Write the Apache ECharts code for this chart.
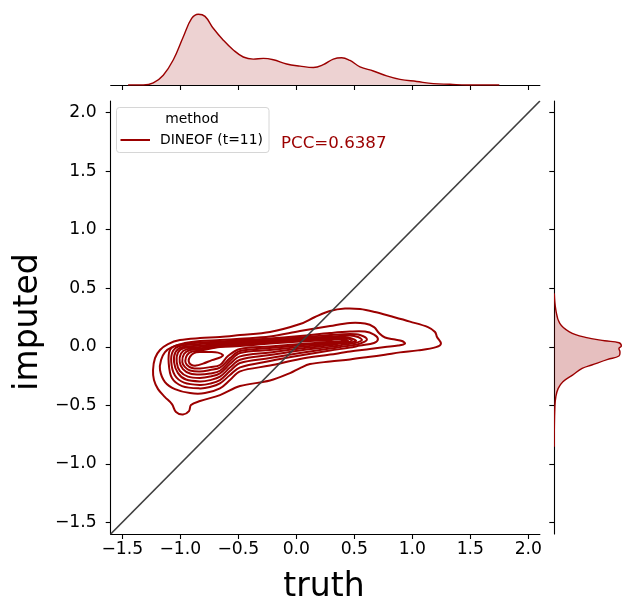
<!DOCTYPE html>
<html>
<head>
<meta charset="utf-8">
<script src="https://cdn.jsdelivr.net/npm/echarts@6/dist/echarts.min.js"></script>
<style>
html,body{margin:0;padding:0;background:#fff;}
#chart{width:637px;height:615px;}
</style>
</head>
<body>
<div id="chart"></div>
<script>
// ---- tick labels ----
const xTicks = [-1.5, -1.0, -0.5, 0.0, 0.5, 1.0, 1.5, 2.0];
const yTicks = [-1.5, -1.0, -0.5, 0.0, 0.5, 1.0, 1.5, 2.0];

// ---- marginal KDE of truth (x) ----
const margXVals = [-1.45, -1.319, -1.233, -1.147, -1.060, -0.974, -0.902, -0.845, -0.787, -0.716, -0.629, -0.543, -0.457, -0.371, -0.284, -0.198, -0.083, 0.032, 0.147, 0.233, 0.319, 0.391, 0.463, 0.549, 0.664, 0.779, 0.894, 1.038, 1.181, 1.325, 1.469, 1.75];
const margXDens = [0, 0, 0.03, 0.14, 0.36, 0.69, 0.95, 1.01, 0.98, 0.81, 0.64, 0.50, 0.40, 0.37, 0.38, 0.36, 0.30, 0.27, 0.25, 0.29, 0.37, 0.39, 0.35, 0.26, 0.20, 0.13, 0.08, 0.05, 0.02, 0.01, 0, 0];

// ---- marginal KDE of imputed (y) ----
const margYVals = [0.456, 0.314, 0.200, 0.128, 0.080, 0.051, 0.034, 0.006, -0.014, -0.043, -0.079, -0.108, -0.156, -0.185, -0.242, -0.299, -0.356, -0.427, -0.513, -0.712, -0.855];
const margYDens = [0, 0.08, 0.28, 0.77, 1.59, 2.57, 3.30, 3.42, 3.30, 3.35, 3.30, 2.73, 1.91, 1.42, 0.93, 0.44, 0.20, 0.08, 0.03, 0, 0];

// ---- bivariate KDE contour lines (truth, imputed), outermost first ----
const contour1 = [[-1.235,-0.199],[-1.218,-0.097],[-1.175,-0.028],[-1.106,0.023],[-1.003,0.057],[-0.830,0.074],[-0.658,0.083],[-0.485,0.100],[-0.227,0.126],[0.032,0.194],[0.161,0.254],[0.291,0.305],[0.420,0.326],[0.549,0.322],[0.678,0.297],[0.825,0.258],[0.980,0.215],[1.135,0.168],[1.196,0.126],[1.213,0.083],[1.247,0.027],[1.205,-0.003],[1.049,-0.031],[0.894,-0.048],[0.765,-0.068],[0.618,-0.088],[0.463,-0.108],[0.291,-0.126],[0.118,-0.148],[0.032,-0.182],[-0.054,-0.225],[-0.227,-0.289],[-0.485,-0.336],[-0.658,-0.413],[-0.830,-0.464],[-0.908,-0.498],[-0.925,-0.550],[-0.977,-0.579],[-1.037,-0.558],[-1.072,-0.490],[-1.132,-0.430],[-1.192,-0.362],[-1.227,-0.285]];
const contour2 = [[-1.175,-0.199],[-1.166,-0.114],[-1.132,-0.045],[-1.072,-0.003],[-0.959,0.032],[-0.830,0.049],[-0.658,0.057],[-0.485,0.068],[-0.227,0.087],[0.032,0.134],[0.291,0.177],[0.463,0.203],[0.592,0.198],[0.670,0.168],[0.713,0.117],[0.765,0.079],[0.851,0.062],[0.911,0.049],[0.937,0.027],[0.877,0.010],[0.765,-0.003],[0.635,-0.020],[0.463,-0.041],[0.291,-0.067],[0.032,-0.105],[-0.227,-0.161],[-0.485,-0.210],[-0.572,-0.285],[-0.658,-0.356],[-0.787,-0.396],[-0.916,-0.396],[-1.046,-0.362],[-1.132,-0.302]];
const contour3 = [[-1.100,-0.139],[-1.089,-0.028],[-1.020,0.015],[-0.830,0.036],[-0.658,0.044],[-0.485,0.057],[-0.227,0.070],[0.032,0.091],[0.291,0.117],[0.463,0.130],[0.592,0.130],[0.670,0.104],[0.704,0.066],[0.670,0.032],[0.549,0.010],[0.463,-0.007],[0.291,-0.032],[0.032,-0.075],[-0.227,-0.122],[-0.485,-0.176],[-0.572,-0.242],[-0.658,-0.313],[-0.744,-0.344],[-0.830,-0.356],[-0.985,-0.336],[-1.072,-0.268]];
const contour4 = [[-1.078,-0.131],[-1.063,-0.037],[-1.003,0.006],[-0.830,0.023],[-0.658,0.036],[-0.485,0.049],[-0.227,0.062],[0.032,0.079],[0.291,0.100],[0.463,0.109],[0.549,0.100],[0.609,0.062],[0.549,0.027],[0.463,0.010],[0.291,-0.015],[0.032,-0.054],[-0.227,-0.097],[-0.485,-0.139],[-0.572,-0.208],[-0.658,-0.285],[-0.744,-0.315],[-0.830,-0.326],[-0.968,-0.306],[-1.046,-0.246]];
const contour5 = [[-1.054,-0.131],[-1.041,-0.045],[-0.985,-0.003],[-0.830,0.010],[-0.658,0.027],[-0.485,0.040],[-0.227,0.055],[0.032,0.070],[0.291,0.087],[0.463,0.096],[0.532,0.083],[0.566,0.057],[0.506,0.032],[0.420,0.019],[0.291,-0.001],[0.032,-0.032],[-0.227,-0.071],[-0.485,-0.111],[-0.572,-0.178],[-0.658,-0.256],[-0.744,-0.285],[-0.830,-0.296],[-0.951,-0.280],[-1.020,-0.225]];
const contour6 = [[-1.031,-0.131],[-1.020,-0.050],[-0.968,-0.011],[-0.830,-0.003],[-0.658,0.019],[-0.485,0.032],[-0.227,0.049],[0.032,0.063],[0.291,0.079],[0.420,0.083],[0.515,0.053],[0.463,0.036],[0.377,0.027],[0.291,0.012],[0.032,-0.015],[-0.227,-0.050],[-0.485,-0.082],[-0.572,-0.148],[-0.658,-0.227],[-0.744,-0.255],[-0.830,-0.266],[-0.934,-0.255],[-1.003,-0.208]];
const contour7 = [[-1.005,-0.131],[-0.994,-0.058],[-0.942,-0.020],[-0.830,-0.014],[-0.658,0.010],[-0.485,0.023],[-0.227,0.042],[0.032,0.057],[0.291,0.070],[0.420,0.074],[0.480,0.053],[0.420,0.036],[0.291,0.023],[0.032,-0.001],[-0.227,-0.028],[-0.485,-0.054],[-0.572,-0.122],[-0.658,-0.205],[-0.744,-0.229],[-0.830,-0.238],[-0.916,-0.229],[-0.977,-0.191]];
const contour8 = [[-0.983,-0.131],[-0.968,-0.062],[-0.916,-0.028],[-0.830,-0.024],[-0.658,0.003],[-0.485,0.015],[-0.227,0.036],[0.032,0.051],[0.291,0.063],[0.394,0.068],[0.446,0.052],[0.394,0.040],[0.291,0.032],[0.032,0.012],[-0.227,-0.011],[-0.485,-0.037],[-0.572,-0.097],[-0.658,-0.179],[-0.744,-0.199],[-0.830,-0.212],[-0.916,-0.203],[-0.959,-0.174]];
const contour9 = [[-0.957,-0.122],[-0.942,-0.071],[-0.899,-0.041],[-0.830,-0.034],[-0.658,-0.003],[-0.485,0.006],[-0.227,0.027],[0.032,0.044],[0.291,0.057],[0.377,0.061],[0.428,0.050],[0.377,0.043],[0.291,0.040],[0.032,0.023],[-0.227,0.002],[-0.485,-0.020],[-0.589,-0.079],[-0.658,-0.156],[-0.744,-0.174],[-0.830,-0.186],[-0.899,-0.182],[-0.942,-0.156]];
const contour10 = [[-0.928,-0.122],[-0.916,-0.084],[-0.882,-0.054],[-0.830,-0.045],[-0.744,-0.045],[-0.675,-0.050],[-0.632,-0.071],[-0.649,-0.088],[-0.727,-0.114],[-0.804,-0.144],[-0.865,-0.161],[-0.908,-0.152]];
const contours = [contour1, contour2, contour3, contour4, contour5, contour6, contour7, contour8, contour9, contour10];

// identity reference line
const diagLine = [[-1.6, -1.6], [2.1, 2.1]];

const legendTitle = 'method';
const legendLabel = 'DINEOF (t=11)';
const pccText = 'PCC=0.6387';

const RED = 'rgb(155,0,0)';
const FILL = 'rgba(155,0,0,0.25)';
const FONT = 'DejaVu Sans';
const fmt = v => (v < 0 ? '\u2212' : '') + Math.abs(v).toFixed(1);

const chart = echarts.init(document.getElementById('chart'), null, {renderer: 'canvas'});

const axLine = {show: true, onZero: false, lineStyle: {color: '#000', width: 1.1}};

const option = {
  animation: false,
  backgroundColor: '#fff',
  grid: [
    {left: 110.7, top: 101, width: 429.2, height: 433},
    {left: 110.7, top: 0, width: 429.2, height: 85},
    {left: 554.3, top: 101, width: 86, height: 433}
  ],
  xAxis: [
    {gridIndex: 0, type: 'value', min: -1.6, max: 2.1,
     axisLine: axLine,
     axisTick: {show: true, length: 5, customValues: xTicks, lineStyle: {color: '#000', width: 1.1}},
     axisLabel: {customValues: xTicks, formatter: fmt, fontSize: 17.2, color: '#000', fontFamily: FONT, margin: 7},
     splitLine: {show: false}},
    {gridIndex: 1, type: 'value', min: -1.6, max: 2.1,
     axisLine: axLine,
     axisTick: {show: true, length: 5, customValues: xTicks, lineStyle: {color: '#000', width: 1.1}},
     axisLabel: {show: false}, splitLine: {show: false}},
    {gridIndex: 2, type: 'value', min: 0, max: 4.22, show: false, splitLine: {show: false}}
  ],
  yAxis: [
    {gridIndex: 0, type: 'value', min: -1.6, max: 2.1,
     axisLine: axLine,
     axisTick: {show: true, length: 5, customValues: yTicks, lineStyle: {color: '#000', width: 1.1}},
     axisLabel: {customValues: yTicks, formatter: fmt, fontSize: 17.2, color: '#000', fontFamily: FONT, margin: 14},
     splitLine: {show: false}},
    {gridIndex: 1, type: 'value', min: 0, max: 1.214, show: false, splitLine: {show: false}},
    {gridIndex: 2, type: 'value', min: -1.6, max: 2.1,
     axisLine: axLine,
     axisTick: {show: true, length: 5, customValues: yTicks, lineStyle: {color: '#000', width: 1.1}},
     axisLabel: {show: false}, splitLine: {show: false}}
  ],
  series: [
    {
      type: 'custom', xAxisIndex: 0, yAxisIndex: 0, z: 2,
      data: contours.map(c => [c[0][0], c[0][1]]),
      renderItem: function (params, api) {
        const c = contours[params.dataIndex];
        const pts = c.map(p => api.coord(p));
        return {type: 'polygon', shape: {points: pts, smooth: 0.35},
                style: {fill: 'none', stroke: RED, lineWidth: 2}};
      }
    },
    {
      type: 'line', xAxisIndex: 0, yAxisIndex: 0, z: 5,
      data: diagLine, symbol: 'none',
      lineStyle: {color: '#3f3f3f', width: 1.7}
    },
    {
      type: 'line', xAxisIndex: 1, yAxisIndex: 1, z: 2,
      data: margXVals.map((x, i) => [x, margXDens[i]]),
      symbol: 'none', smooth: 0.4,
      lineStyle: {color: RED, width: 1.4},
      areaStyle: {color: FILL, origin: 'start'}
    },
    {
      type: 'custom', xAxisIndex: 2, yAxisIndex: 2, z: 2, clip: true,
      data: [[0, 0]],
      renderItem: function (params, api) {
        const pts = margYVals.map((y, i) => api.coord([margYDens[i], y]));
        return {type: 'group', children: [
          {type: 'polygon', shape: {points: pts, smooth: 0.4}, style: {fill: FILL, stroke: 'none'}},
          {type: 'polyline', shape: {points: pts, smooth: 0.4}, style: {fill: 'none', stroke: RED, lineWidth: 1.4}}
        ]};
      }
    }
  ],
  graphic: [
    {type: 'rect', shape: {x: 116.5, y: 107.5, width: 152.5, height: 45, r: 3},
     style: {fill: 'rgba(255,255,255,0.8)', stroke: '#d6d6d6', lineWidth: 1}, z: 10},
    {type: 'text', x: 192, y: 119.5, z: 11,
     style: {text: legendTitle, fill: '#000', font: '13.9px "DejaVu Sans"', textAlign: 'center', textVerticalAlign: 'middle'}},
    {type: 'line', shape: {x1: 120.5, y1: 140, x2: 150, y2: 140}, z: 11,
     style: {stroke: RED, lineWidth: 2}},
    {type: 'text', x: 160, y: 140.5, z: 11,
     style: {text: legendLabel, fill: '#000', font: '13.9px "DejaVu Sans"', textAlign: 'left', textVerticalAlign: 'middle'}},
    {type: 'text', x: 281, y: 143.5, z: 11,
     style: {text: pccText, fill: RED, font: '16.67px "DejaVu Sans"', textAlign: 'left', textVerticalAlign: 'middle'}},
    {type: 'text', x: 324, y: 587, z: 11,
     style: {text: 'truth', fill: '#000', font: '33px "DejaVu Sans"', textAlign: 'center', textVerticalAlign: 'middle'}},
    {type: 'text', x: 28, y: 322, rotation: Math.PI / 2, z: 11,
     style: {text: 'imputed', fill: '#000', font: '33px "DejaVu Sans"', textAlign: 'center', textVerticalAlign: 'middle'}}
  ]
};
chart.setOption(option);
</script>
</body>
</html>
